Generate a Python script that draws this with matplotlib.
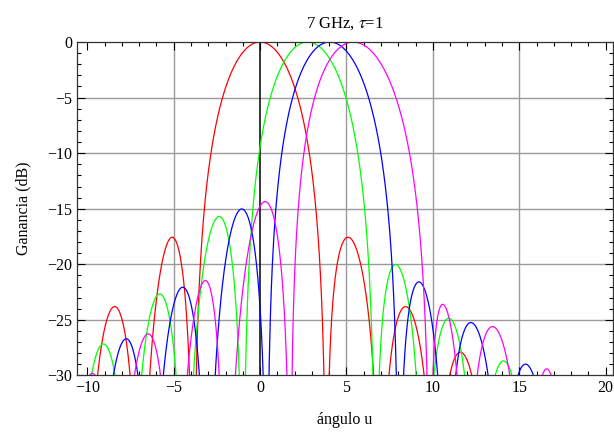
import numpy as np
import matplotlib.pyplot as plt
from matplotlib.ticker import MultipleLocator

plt.rcParams["font.family"] = ["Liberation Serif", "DejaVu Serif"]
plt.rcParams["mathtext.fontset"] = "stix"
plt.rcParams["font.size"] = 11.5

# lobe data: each lobe sits between two nulls
# and has one peak (position u, level in dB)
red_nulls = [-13.4, -10.2, -7.0, -3.85, 3.85, 7.0, 10.2, 13.4]
red_peak_u = [-11.59, -8.42, -5.09, 0.0, 5.09, 8.42, 11.59]
red_peak_db = [-27.9, -23.8, -17.56, 0.0, -17.56, -23.8, -27.9]

green_nulls = [-10.7, -7.55, -4.4, -0.98, 6.69, 9.5, 12.55, 15.7]
green_peak_u = [-9.07, -5.81, -2.37, 2.75, 7.84, 10.92, 14.09]
green_peak_db = [-27.16, -22.66, -15.7, 0.0, -20.02, -24.85, -28.69]

blue_nulls = [-9.6, -6.36, -3.09, 0.4, 8.05, 10.8, 14.07, 17.2]
blue_peak_u = [-7.75, -4.48, -1.06, 4.03, 9.19, 12.2, 15.36]
blue_peak_db = [-26.7, -22.06, -15.02, 0.0, -21.58, -25.24, -28.98]

magenta_nulls = [-11.0, -8.4, -5.1, -2.06, 1.76, 9.85, 12.0, 15.4, 17.8]
magenta_peak_u = [-9.71, -6.48, -3.17, 0.29, 5.4, 10.57, 13.45, 16.59]
magenta_peak_db = [-29.8, -26.26, -21.46, -14.36, 0.0, -23.6, -25.6, -29.4]

grid_u = [-5, 5, 10, 15]
grid_db = [-5, -10, -15, -20, -25]


def lobe(left, right, pu, pdb, q=1.25, n=400):
    # sine shaped lobe, skewed so the maximum lands on the read peak
    s = np.linspace(0, 1, n)
    f = (pu - left) / (right - left)
    p = np.log(0.5) / np.log(f)
    amp = np.sin(np.pi * s**p)
    db = pdb + 20 * q * np.log10(np.maximum(amp, 1e-5))
    return left + s * (right - left), db


def pattern(nulls, peak_u, peak_db):
    us, dbs = [], []
    for i in range(len(peak_u)):
        u, db = lobe(nulls[i], nulls[i + 1], peak_u[i], peak_db[i])
        us.append(u)
        dbs.append(db)
    return np.concatenate(us), np.concatenate(dbs)


fig = plt.figure(figsize=(6.14, 4.36), dpi=100)
ax = fig.add_axes([0.1254, 0.1388, 0.8722, 0.7649])

for g in grid_u:
    ax.axvline(g, color="#9a9a9a", lw=1.0, zorder=0)
for g in grid_db:
    ax.axhline(g, color="#9a9a9a", lw=1.0, zorder=0)
ax.axvline(0, color="black", lw=1.1, zorder=1)

curves = [
    (red_nulls, red_peak_u, red_peak_db, "#ff0000"),
    (green_nulls, green_peak_u, green_peak_db, "#00ff00"),
    (blue_nulls, blue_peak_u, blue_peak_db, "#0000ff"),
    (magenta_nulls, magenta_peak_u, magenta_peak_db, "#ff00ff"),
]
for nulls, pu, pdb, col in curves:
    u, db = pattern(nulls, pu, pdb)
    ax.plot(u, db, color=col, lw=0.9, zorder=2)

ax.set_xlim(-10.6, 20.4)
ax.set_ylim(-30, 0)
ax.set_xticks(range(-10, 21, 5))
ax.set_yticks(range(-30, 1, 5))
ax.xaxis.set_minor_locator(MultipleLocator(1))
ax.yaxis.set_minor_locator(MultipleLocator(1))
ax.tick_params(which="both", direction="in", top=True, right=True, width=0.8)
ax.tick_params(which="major", length=6)
ax.tick_params(which="minor", length=3)
for sp in ax.spines.values():
    sp.set_linewidth(0.9)
    sp.set_color("#333333")

ax.set_title(r"7 GHz, $\tau$=1", fontsize=12, pad=10)
ax.set_xlabel("ángulo u", labelpad=11)
ax.set_ylabel("Ganancia (dB)", labelpad=11)

fig.savefig("out.png", dpi=100)
